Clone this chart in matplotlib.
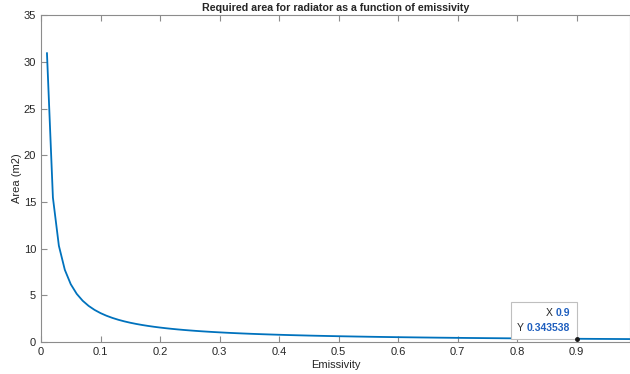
import matplotlib
matplotlib.use("Agg")
import matplotlib.pyplot as plt
from matplotlib.offsetbox import TextArea, HPacker, VPacker, AnnotationBbox

# Emissivity values and required radiator area
emissivity = [
    0.01, 0.02, 0.03, 0.04, 0.05, 0.06, 0.07, 0.08, 0.09, 0.10,
    0.11, 0.12, 0.13, 0.14, 0.15, 0.16, 0.17, 0.18, 0.19, 0.20,
    0.21, 0.22, 0.23, 0.24, 0.25, 0.26, 0.27, 0.28, 0.29, 0.30,
    0.31, 0.32, 0.33, 0.34, 0.35, 0.36, 0.37, 0.38, 0.39, 0.40,
    0.41, 0.42, 0.43, 0.44, 0.45, 0.46, 0.47, 0.48, 0.49, 0.50,
    0.51, 0.52, 0.53, 0.54, 0.55, 0.56, 0.57, 0.58, 0.59, 0.60,
    0.61, 0.62, 0.63, 0.64, 0.65, 0.66, 0.67, 0.68, 0.69, 0.70,
    0.71, 0.72, 0.73, 0.74, 0.75, 0.76, 0.77, 0.78, 0.79, 0.80,
    0.81, 0.82, 0.83, 0.84, 0.85, 0.86, 0.87, 0.88, 0.89, 0.90,
    0.91, 0.92, 0.93, 0.94, 0.95, 0.96, 0.97, 0.98, 0.99,
]
area = [
    30.918, 15.459, 10.306, 7.730, 6.184, 5.153, 4.417, 3.865, 3.435, 3.092,
    2.811, 2.577, 2.378, 2.208, 2.061, 1.932, 1.819, 1.718, 1.627, 1.546,
    1.472, 1.405, 1.344, 1.288, 1.237, 1.189, 1.145, 1.104, 1.066, 1.031,
    0.997, 0.966, 0.937, 0.909, 0.883, 0.859, 0.836, 0.814, 0.793, 0.773,
    0.754, 0.736, 0.719, 0.703, 0.687, 0.672, 0.658, 0.644, 0.631, 0.618,
    0.606, 0.595, 0.583, 0.573, 0.562, 0.552, 0.542, 0.533, 0.524, 0.515,
    0.507, 0.499, 0.491, 0.483, 0.476, 0.468, 0.461, 0.455, 0.448, 0.442,
    0.435, 0.429, 0.424, 0.418, 0.412, 0.407, 0.402, 0.396, 0.391, 0.386,
    0.382, 0.377, 0.373, 0.368, 0.364, 0.360, 0.355, 0.351, 0.347, 0.344,
    0.340, 0.336, 0.332, 0.329, 0.325, 0.322, 0.319, 0.315, 0.312,
]
tip_x = 0.9
tip_y = 0.343538

plt.rcParams["font.family"] = ["Liberation Sans", "DejaVu Sans"]

fig = plt.figure(figsize=(6.3, 3.74), dpi=100)
ax = fig.add_axes([0.0651, 0.0856, 0.935, 0.874])

ax.plot(emissivity, area, color="#0072BD", linewidth=1.3)
ax.plot([tip_x], [tip_y], "o", color="#1a1a1a", markersize=2.5, zorder=5)

ax.set_xlim(0, 0.99)
ax.set_ylim(0, 35)
ax.set_xticks([0, 0.1, 0.2, 0.3, 0.4, 0.5, 0.6, 0.7, 0.8, 0.9])
ax.set_xticklabels(["0", "0.1", "0.2", "0.3", "0.4", "0.5", "0.6", "0.7", "0.8", "0.9"])
ax.set_yticks([0, 5, 10, 15, 20, 25, 30, 35])

grey = "#262626"
for s in ax.spines.values():
    s.set_color("#8c8c8c")
    s.set_linewidth(0.8)
ax.tick_params(direction="in", length=4, width=0.8, colors="#8c8c8c",
               labelcolor=grey, labelsize=8, top=True, right=False)

ax.set_title("Required area for radiator as a function of emissivity",
             fontsize=7.7, fontweight="bold", color=grey, pad=3)
ax.set_xlabel("Emissivity", fontsize=8, color=grey, labelpad=2)
ax.set_ylabel("Area (m2)", fontsize=8, color=grey, labelpad=1)

# data tip
lab = dict(fontsize=7.5, color=grey)
val = dict(fontsize=7.5, color="#1f5fbf", fontweight="bold")
row1 = HPacker(children=[TextArea("X", textprops=lab),
                         TextArea("0.9", textprops=val)], pad=0, sep=2)
row2 = HPacker(children=[TextArea("Y", textprops=lab),
                         TextArea("0.343538", textprops=val)], pad=0, sep=2)
tip = VPacker(children=[row1, row2], align="right", pad=0, sep=3)
ab = AnnotationBbox(tip, (tip_x, tip_y), xybox=(-4.5, 4.5), boxcoords="offset points",
                    box_alignment=(1, 0), pad=0.45,
                    bboxprops=dict(facecolor="white", edgecolor="#bfbfbf", linewidth=0.8))
ax.add_artist(ab)

fig.savefig("out.png", dpi=100)
